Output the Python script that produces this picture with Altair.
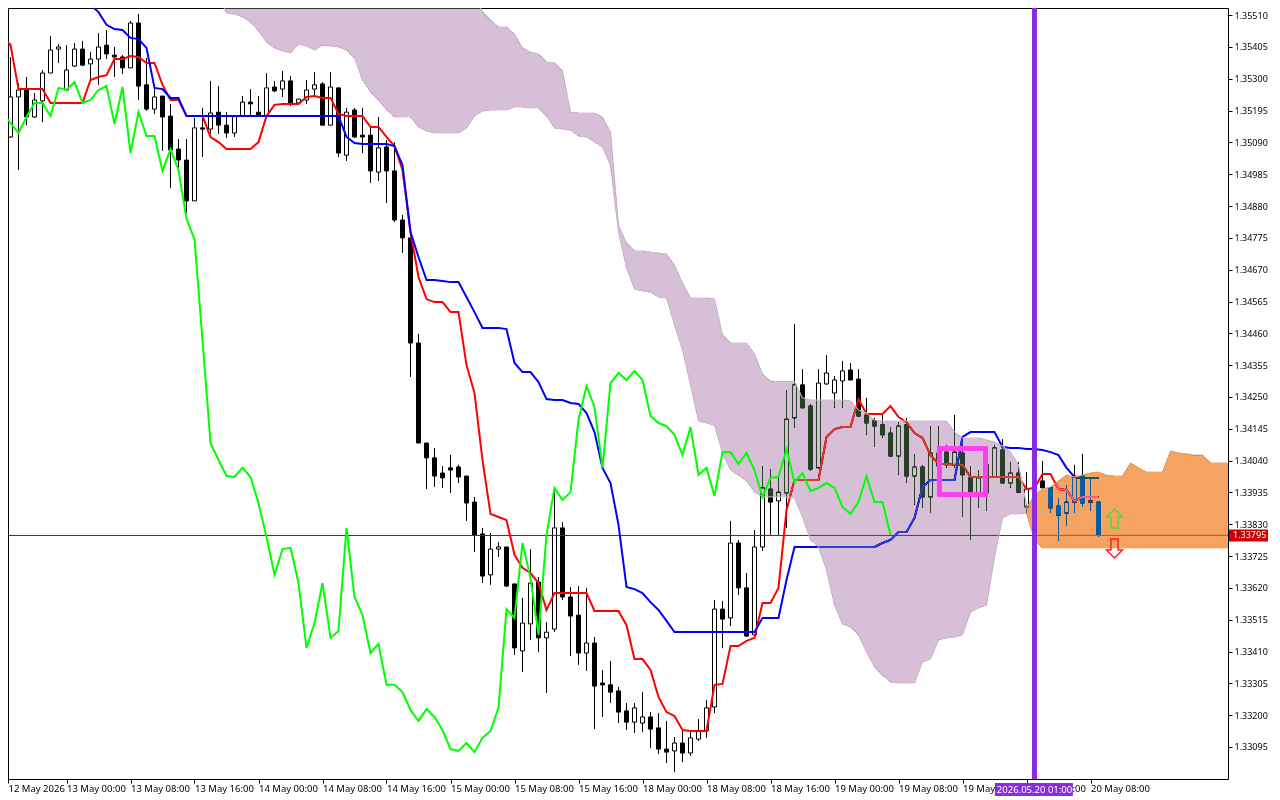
import altair as alt
import pandas as pd

# prices are written as the five decimals of 1.xxxxx (35510 -> 1.35510)
opens = [35372,35108,35240,35263,35174,35227,35319,35398,35263,35342,35398,35349,35365,35411,35378,35372,35336,35484,35280,35200,
         35243,35177,35068,35032,34897,35138,35134,35190,35147,35121,35177,35223,35190,35177,35273,35266,35293,35220,35230,35266,
         35283,35147,35270,35048,35197,35114,35114,34992,35075,34996,34834,34775,34428,34098,34049,33999,34016,34019,33989,33903,
         33798,33663,33748,33755,33633,33412,33501,33639,33455,33484,33818,33590,33530,33405,33438,33306,33300,33280,33214,33177,
         33174,33194,33158,33088,33082,33108,33075,33121,33148,33227,33550,33521,33768,33620,33465,33755,33946,33907,33933,34181,
         34290,34220,34016,34293,34263,34303,34339,34309,34190,34171,34158,34131,34055,34158,33989,34019,33920,34065,34068,34026,
         34065,33983,33933,34026,33986,34075,33966,33999,33887,33950,33973,33950,33890,33867,33903,33989,33907,33903]
closes = [35105,35240,35263,35174,35230,35319,35395,35405,35329,35398,35345,35365,35405,35382,35372,35336,35484,35276,35200,35240,
          35174,35065,35032,34897,35138,35134,35187,35147,35121,35177,35223,35217,35177,35270,35260,35293,35220,35233,35263,35280,
          35147,35273,35055,35190,35108,35108,34996,35072,34996,34834,34775,34428,34098,34049,33989,33983,34009,33986,33900,33795,
          33659,33748,33755,33626,33422,33504,33636,33455,33474,33818,33590,33527,33405,33438,33296,33300,33276,33210,33177,33224,
          33194,33154,33088,33078,33108,33075,33125,33148,33224,33550,33517,33768,33620,33461,33755,33950,33903,33936,34177,34290,
          34214,34012,34296,34329,34306,34336,34306,34187,34164,34154,34125,34055,34154,33989,34019,33920,34065,34022,34026,34068,
          33993,33933,33983,33933,34082,33966,33999,33936,33946,33943,33950,33884,33860,33903,33989,33900,33903,33795]
highs = [35372,35372,35286,35306,35253,35329,35441,35415,35411,35418,35425,35388,35451,35461,35405,35378,35491,35514,35369,35270,
         35243,35217,35101,35101,35171,35204,35293,35276,35190,35180,35243,35266,35243,35319,35293,35326,35309,35233,35296,35322,
         35289,35322,35270,35204,35204,35204,35141,35174,35098,35091,34851,34775,34458,34098,34082,34022,34059,34026,33989,33920,
         33818,33801,33771,33755,33633,33587,33748,33656,33507,33950,33837,33623,33626,33620,33458,33349,33379,33293,33240,33240,
         33276,33210,33207,33181,33128,33151,33144,33187,33250,33580,33577,33841,33778,33669,33811,34022,34012,33983,34273,34491,
         34342,34227,34342,34388,34319,34369,34362,34342,34247,34181,34191,34151,34167,34181,34062,34026,34154,34154,34092,34191,
         34098,34022,34009,34075,34092,34111,34035,34035,34002,33976,34039,33950,33917,33959,34026,34062,33979,33903]
lows = [35105,35105,34999,35147,35171,35157,35319,35352,35263,35339,35342,35296,35280,35365,35306,35316,35336,35230,35194,35184,
        35062,34940,35006,34857,34897,35042,35118,35118,35105,35108,35177,35180,35174,35177,35256,35240,35210,35214,35217,35240,
        35147,35147,35042,35029,35105,35055,34956,34963,34890,34827,34725,34316,34098,33946,33953,33950,33933,33966,33841,33738,
        33636,33630,33722,33623,33399,33342,33448,33408,33273,33474,33580,33395,33366,33346,33154,33194,33240,33174,33151,33141,
        33144,33092,33072,33042,33012,33045,33065,33115,33125,33207,33422,33494,33596,33458,33465,33742,33795,33795,33818,34148,
        34214,34006,34016,34290,34214,34214,34306,34187,34125,34085,34115,34055,33993,33966,33894,33884,33867,33943,34016,34016,
        33854,33778,33884,33874,33986,33966,33950,33936,33887,33910,33950,33867,33775,33824,33867,33887,33874,33788]

tenkan = [35438,35412,35266,35266,35266,35266,35220,35220,35220,35220,35220,35296,35306,35312,35365,35365,35375,35372,35352,35352,
          35280,35230,35230,35177,35177,35177,35108,35091,35068,35068,35068,35068,35091,35177,35214,35217,35217,35217,35240,35243,
          35237,35237,35184,35177,35177,35177,35141,35141,35108,35078,34999,34794,34646,34573,34563,34563,34530,34530,34355,34263,
          34042,33864,33854,33844,33729,33686,33669,33636,33547,33603,33603,33603,33603,33603,33544,33544,33544,33544,33497,33385,
          33385,33349,33260,33210,33197,33151,33148,33148,33148,33300,33303,33428,33428,33445,33455,33570,33570,33620,33877,33976,
          33976,33976,33976,34118,34144,34151,34151,34243,34194,34194,34194,34220,34184,34167,34131,34115,34058,34029,34029,34026,
          34026,33986,33986,33986,33986,33986,33986,33986,33946,33950,33996,33996,33946,33943,33907,33920,33920,33920]
kijun = [35550,35544,35520,35478,35464,35461,35435,35431,35402,35270,35266,35237,35237,35177,35177,35177,35177,35177,35177,35177,
         35177,35177,35177,35177,35177,35177,35177,35177,35177,35177,35177,35177,35177,35108,35088,35085,35085,35085,35085,35078,
         35015,34794,34712,34636,34636,34633,34629,34629,34580,34530,34478,34478,34478,34474,34362,34332,34332,34299,34243,34240,
         34240,34230,34227,34197,34134,34016,33966,33828,33623,33616,33603,33573,33547,33511,33474,33474,33474,33474,33474,33474,
         33474,33474,33474,33474,33474,33521,33521,33521,33646,33755,33755,33755,33755,33755,33755,33755,33755,33755,33755,33755,
         33768,33778,33804,33804,33851,33953,33976,33976,33976,33976,34118,34134,34134,34134,34134,34085,34082,34082,34078,34078,
         34075,34068,34058,34016,33986,33983,33983,33983]
chikou = [35187,35154,35121,35174,35220,35220,35177,35270,35263,35289,35220,35230,35263,35276,35151,35273,35055,35190,35111,35111,
          34996,35068,34999,34837,34771,34438,34098,34042,33989,33986,34016,33986,33900,33788,33663,33748,33752,33636,33422,33504,
          33636,33455,33478,33818,33590,33530,33405,33435,33300,33300,33276,33217,33181,33220,33194,33151,33088,33082,33108,33078,
          33125,33148,33224,33550,33521,33768,33653,33465,33795,33950,33910,33936,34174,34286,34217,34016,34296,34329,34306,34336,
          34306,34187,34164,34154,34125,34059,34151,33993,34016,33923,34068,34068,34029,34065,34009,33920,33983,33986,34078,33969,
          33999,33940,33950,33966,33950,33887,33864,33903,33989,33903,33903,33795]

# past cloud, bars 27 to 128
cloud_upper = [35600] * 32 + [35576,35520,35494,35471,35471,35448,35402,35388,35382,35355,35352,35326,35190,35187,35187,35187,35174,35124,
               34817,34758,34732,34732,34728,34725,34722,34685,34626,34577,34577,34577,34573,34455,34428,34428,34428,34392,34326,34303,
               34300,34300,34300,34247,34240,34240,34240,34240,34240,34237,34207,34197,34174,34171,34171,34171,34171,34171,34171,34171,
               34171,34171,34134,34115,34115,34115,34108,34101,34088,34068,34026,33894]
cloud_lower = [35570,35517,35514,35504,35487,35458,35421,35402,35392,35385,35415,35408,35395,35411,35408,35405,35395,35369,35296,35256,
               35230,35197,35174,35174,35174,35141,35128,35121,35121,35121,35121,35138,35177,35194,35197,35197,35197,35207,35207,35204,
               35204,35177,35138,35134,35131,35111,35108,35091,35075,35015,34794,34676,34606,34600,34596,34580,34577,34487,34405,34290,
               34171,34164,34157,34065,34009,33992,33973,33936,33920,33920,33920,33920,33917,33854,33778,33755,33679,33563,33501,33491,
               33465,33408,33359,33332,33309,33306,33306,33306,33375,33385,33448,33455,33458,33465,33540,33554,33563,33722,33851,33864,
               33864,33867]
# future cloud, bars 128 to the right edge
future_upper = [33884,33926,33946,33953,33973,33992,33986,33992,33999,34002,33992,33989,33989,34032,34016,34002,34002,34002,34072,34065,
                34062,34058,34058,34032,34032,34032,34032]
future_lower = [33867,33778] + [33752] * 25

tick_labels = ["12 May 2026","13 May 00:00","13 May 08:00","13 May 16:00","14 May 00:00","14 May 08:00","14 May 16:00","15 May 00:00",
               "15 May 08:00","15 May 16:00","18 May 00:00","18 May 08:00","18 May 16:00","19 May 00:00","19 May 08:00","19 May 16:00",
               "20 May 00:00","20 May 08:00"]
price_ticks = [1.35510,1.35405,1.35300,1.35195,1.35090,1.34985,1.34880,1.34775,1.34670,1.34565,1.34460,1.34355,1.34250,1.34145,1.34040,
               1.33935,1.33830,1.33725,1.33620,1.33515,1.33410,1.33305,1.33200,1.33095]
last_price = 1.33795
last_line = 1.33793
x_start, x_end = 0.6875, 153.1875
y_low, y_high = 1.329893, 1.355336
box_bars = [117.125, 122.875]
box_prices = [1.34080, 1.33928]
time_tag_bars = [124.06, 133.8]
marker_bar = 129
arrow_up = (139, 1.33849)
arrow_down = (139, 1.33750)

FONT = "Noto Sans"
CLOUD = "#d6bfd7"
ORANGE = "#f4a460"


def price(values):
    return [1 + v / 1e5 for v in values]


candles = pd.DataFrame({"i": range(len(opens)), "open": price(opens), "close": price(closes), "high": price(highs), "low": price(lows)})
candles["fill"] = ["black" if c < o else "white" for o, c in zip(candles["open"], candles["close"])]
lines = {
    "tenkan": pd.DataFrame({"i": range(len(tenkan)), "p": price(tenkan)}),
    "kijun": pd.DataFrame({"i": range(10, 10 + len(kijun)), "p": price(kijun)}),
    "chikou": pd.DataFrame({"i": range(len(chikou)), "p": price(chikou)}),
}
past = pd.DataFrame({"i": range(27, 27 + len(cloud_upper)), "a": price(cloud_upper), "b": price(cloud_lower)})
future = pd.DataFrame({"i": list(range(128, 154)) + [x_end], "a": price(future_upper), "b": price(future_lower)})

x_scale = alt.Scale(domain=[x_start, x_end], nice=False, zero=False, padding=0)
y_scale = alt.Scale(domain=[y_low, y_high], nice=False, zero=False)
label_expr = "[" + ",".join(f"'{t}'" for t in tick_labels) + "][round(datum.value / 8)]"
x_axis = alt.Axis(
    values=[x_start] + [8 * k for k in range(1, len(tick_labels))], labelExpr=label_expr, labelAlign="left",
    labelFont=FONT, labelFontSize=9.5, labelColor="black", labelPadding=0, labelOverlap=False, labelFlush=False, labelBound=False,
    tickColor="black", tickSize=4, domain=False, grid=False, title=None)
y_axis = alt.Axis(
    orient="right", values=price_ticks, format=".5f", labelFont=FONT, labelFontSize=9, labelColor="black", labelPadding=2,
    labelOverlap=False, labelFlush=False, labelBound=False, tickColor="black", tickSize=4, domain=False, grid=False, title=None)


def ix(field="i"):
    return alt.X(f"{field}:Q", scale=x_scale, axis=x_axis)


def py(field):
    return alt.Y(f"{field}:Q", scale=y_scale, axis=y_axis)


wicks = alt.Chart(candles).mark_rule(color="black", strokeWidth=1).encode(x=ix(), y=py("low"), y2="high:Q")
bodies = alt.Chart(candles).mark_bar(size=4, stroke="black", strokeWidth=1).encode(
    x=ix(), y=alt.Y("open:Q", scale=y_scale, axis=y_axis, stack=None), y2="close:Q", fill=alt.Fill("fill:N", scale=None),
)


def line(name, color):
    return alt.Chart(lines[name]).mark_line(color=color, strokeWidth=2).encode(x=ix(), y=py("p"))


def xor_area(df, color):
    # the platform paints clouds in xor mode: invert what is below, then take the difference
    invert = alt.Chart(df).mark_area(color="white", blend="difference").encode(x=ix(), y=py("a"), y2="b:Q")
    paint = alt.Chart(df).mark_area(color=color, blend="difference").encode(x=ix(), y=py("a"), y2="b:Q")
    # the two blended edges leave a dark fringe, so cover it
    top = alt.Chart(df).mark_line(color=color, strokeWidth=1).encode(x=ix(), y=py("a"))
    bottom = alt.Chart(df).mark_line(color=color, strokeWidth=1).encode(x=ix(), y=py("b"))
    return invert + paint + top + bottom


last_df = pd.DataFrame({"p": [last_line], "label": [f"{last_price:.5f}"]})
price_line = alt.Chart(last_df).mark_rule(color="#b40000", strokeWidth=1).encode(y=py("p"))

box = alt.Chart(pd.DataFrame({"x1": [box_bars[0]], "x2": [box_bars[1]], "y1": [box_prices[0]], "y2": [box_prices[1]]})).mark_rect(
    filled=False, stroke="#ff40f0", strokeWidth=5).encode(x=ix("x1"), x2="x2:Q", y=py("y1"), y2="y2:Q")
marker = alt.Chart(pd.DataFrame({"i": [marker_bar]})).mark_rule(color="#8a2be2", strokeWidth=5).encode(x=ix())

UP = "M0,-1.19 L1,-0.19 L0.45,-0.19 L0.45,1.19 L-0.45,1.19 L-0.45,-0.19 L-1,-0.19 Z"
DOWN = "M0,1.19 L1,0.19 L0.45,0.19 L0.45,-1.19 L-0.45,-1.19 L-0.45,0.19 L-1,0.19 Z"
up = alt.Chart(pd.DataFrame({"i": [arrow_up[0]], "p": [arrow_up[1]]})).mark_point(
    shape=UP, size=256, filled=False, color="#5fd03c", strokeWidth=1.5, opacity=1).encode(x=ix(), y=py("p"))
down = alt.Chart(pd.DataFrame({"i": [arrow_down[0]], "p": [arrow_down[1]]})).mark_point(
    shape=DOWN, size=256, filled=False, color="#ff2020", strokeWidth=1.5, opacity=1).encode(x=ix(), y=py("p"))

price_tag = alt.Chart(last_df).mark_rect(color="#c80000", height=12).encode(x=alt.value(1221), x2=alt.value(1260), y=py("p"))
price_text = alt.Chart(last_df).mark_text(color="white", font=FONT, fontSize=9, align="left", baseline="middle").encode(
    x=alt.value(1225), y=py("p"), text="label:N")
time_df = pd.DataFrame({"x1": [time_tag_bars[0]], "x2": [time_tag_bars[1]], "mid": [marker_bar], "label": ["2026.05.20 01:00"]})
time_tag = alt.Chart(time_df).mark_rect(color="#8a2be2").encode(x=ix("x1"), x2="x2:Q", y=alt.value(775), y2=alt.value(788))
time_text = alt.Chart(time_df).mark_text(color="white", font=FONT, fontSize=9.5, align="center", baseline="middle").encode(
    x=ix("mid"), y=alt.value(782), text="label:N")

chart = alt.layer(
    wicks, bodies, price_line, line("tenkan", "#ff0000"), line("kijun", "#0000ff"),
    xor_area(past, CLOUD), xor_area(future, ORANGE),
    line("chikou", "#00ff00"), box, marker, up, down, price_tag, price_text, time_tag, time_text,
).properties(
    width=1220, height=771, background="white",
    autosize=alt.AutoSizeParams(type="none"),
    padding={"left": 0, "top": 0, "right": 42, "bottom": 17},
).configure_view(stroke="black", strokeWidth=1)

chart.save("out.html", embed_options={"renderer": "svg", "actions": False})
